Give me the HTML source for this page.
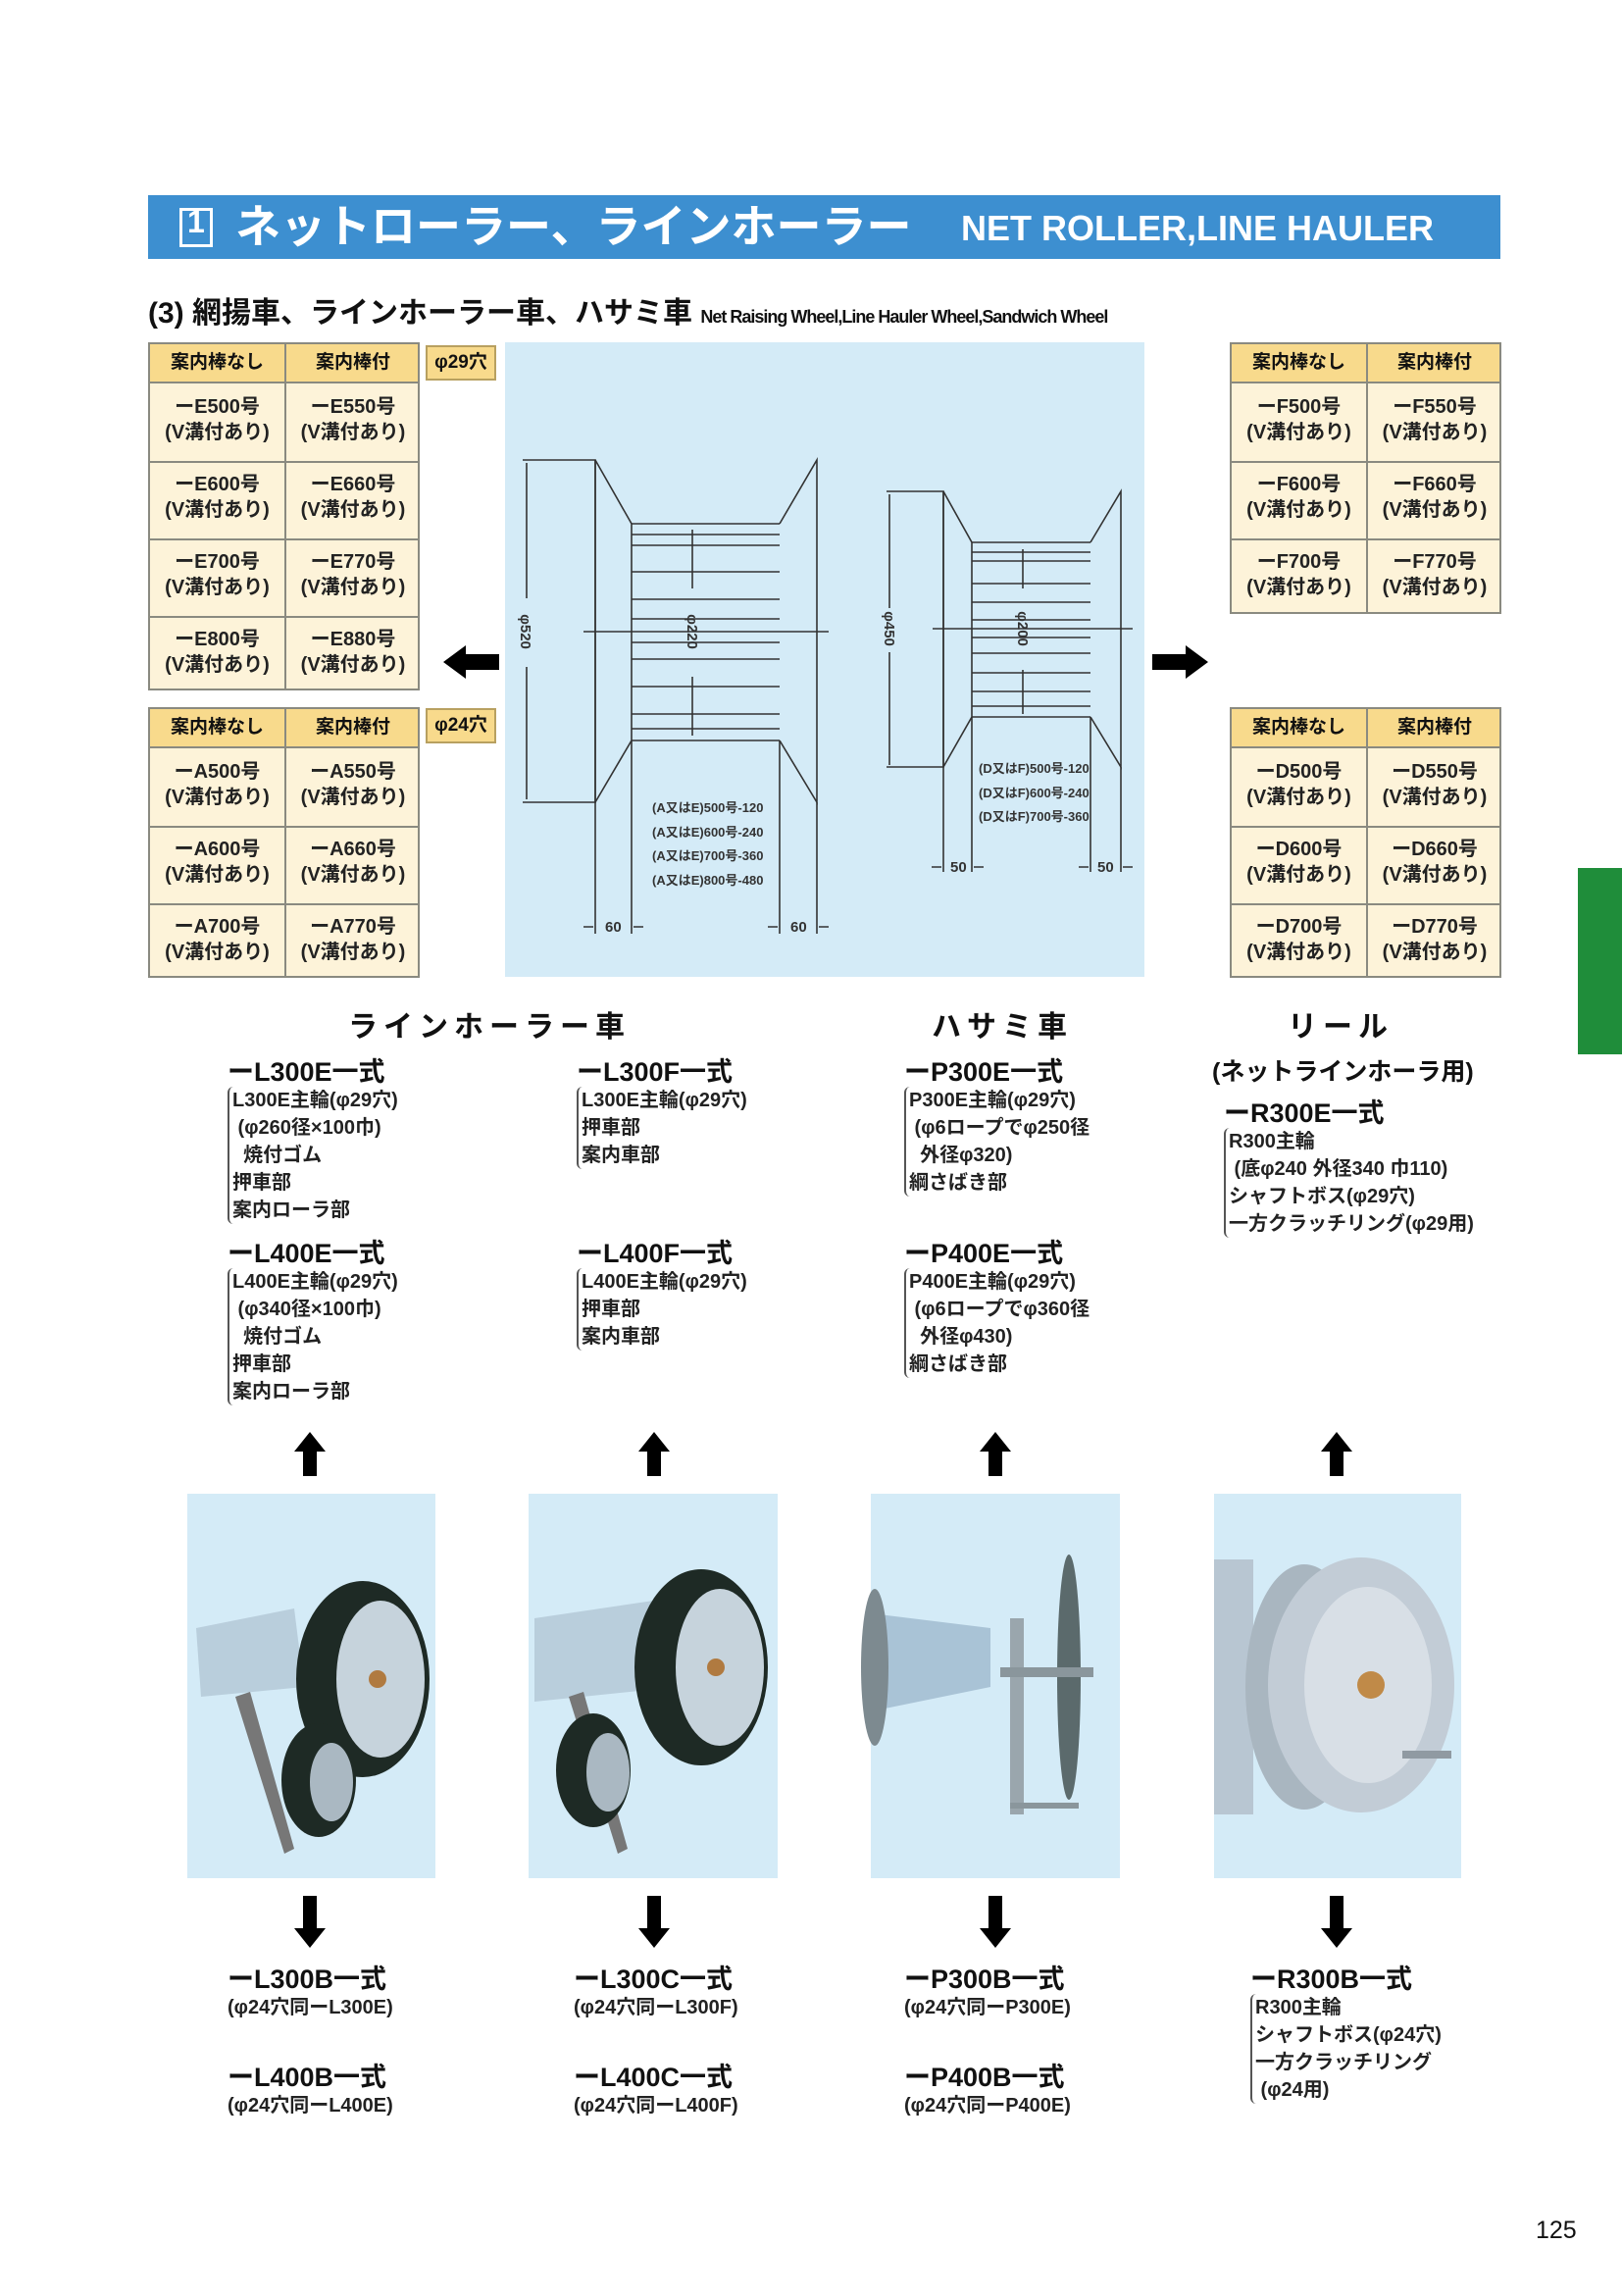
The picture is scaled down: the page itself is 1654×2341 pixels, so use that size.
<!DOCTYPE html>
<html><head><meta charset="utf-8">
<style>
*{margin:0;padding:0;box-sizing:border-box}
body{width:1654px;height:2341px;background:#fff;position:relative;overflow:hidden;font-family:"Liberation Sans","Noto Sans CJK JP",sans-serif;color:#111}
.a{position:absolute}
.tbl{position:absolute;border:2px solid #8a8a80;background:#fdf3d9}
.tbl .h{position:absolute;left:0;right:0;top:0;height:40px;background:#f8da8c;border-bottom:2px solid #8a8a80}
.tbl .v{position:absolute;top:0;bottom:0;width:2px;background:#8a8a80}
.tbl .r{position:absolute;left:0;right:0;height:2px;background:#8a8a80}
.cell{position:absolute;text-align:center;font-size:20px;line-height:26px;font-weight:bold;color:#222}
.hc{position:absolute;text-align:center;font-size:19px;line-height:38px;font-weight:bold;top:0}
.tag{position:absolute;width:72px;height:36px;background:#f8da8c;border:2px solid #b8a060;font-size:19px;font-weight:bold;text-align:center;line-height:32px}
.h1{font-size:27px;font-weight:bold;line-height:30px}
.s{font-size:20px;line-height:28px;font-weight:bold;color:#222}
.sec{font-size:30px;font-weight:bold;letter-spacing:6px}
</style></head><body>

<div class="a" style="left:151px;top:199px;width:1379px;height:65px;background:#3d8fd0"></div>
<div class="a" style="left:183px;top:212px;width:34px;height:40px;border:3px solid #fff"></div>
<div class="a" style="left:191px;top:208px;color:#fff;font-size:32px;font-weight:bold">1</div>
<div class="a" style="left:240px;top:203px;color:#fff;font-size:46px;font-weight:bold;line-height:56px">ネットローラー、ラインホーラー</div>
<div class="a" style="left:980px;top:213px;color:#fff;font-size:36px;font-weight:bold;line-height:40px;transform:scaleX(1.0);transform-origin:left">NET ROLLER,LINE HAULER</div>

<div class="a" style="left:151px;top:302px;font-size:30px;font-weight:bold;line-height:36px">(3) 網揚車、ラインホーラー車、ハサミ車 <span style="font-size:18px;letter-spacing:-1px">Net Raising Wheel,Line Hauler Wheel,Sandwich Wheel</span></div>

<div class="tbl" style="left:151px;top:349px;width:277px;height:355px">
<div class="h"></div><div class="v" style="left:137px"></div>
<div class="hc" style="left:0;width:137px">案内棒なし</div><div class="hc" style="left:139px;width:136px">案内棒付</div>
<div class="r" style="top:119px"></div><div class="r" style="top:198px"></div><div class="r" style="top:277px"></div>
<div class="cell" style="left:0;width:137px;top:51px">ーE500号<br>(V溝付あり)</div><div class="cell" style="left:139px;width:136px;top:51px">ーE550号<br>(V溝付あり)</div>
<div class="cell" style="left:0;width:137px;top:130px">ーE600号<br>(V溝付あり)</div><div class="cell" style="left:139px;width:136px;top:130px">ーE660号<br>(V溝付あり)</div>
<div class="cell" style="left:0;width:137px;top:209px">ーE700号<br>(V溝付あり)</div><div class="cell" style="left:139px;width:136px;top:209px">ーE770号<br>(V溝付あり)</div>
<div class="cell" style="left:0;width:137px;top:288px">ーE800号<br>(V溝付あり)</div><div class="cell" style="left:139px;width:136px;top:288px">ーE880号<br>(V溝付あり)</div>
</div>
<div class="tag" style="left:434px;top:352px">φ29穴</div>

<div class="tbl" style="left:151px;top:721px;width:277px;height:276px">
<div class="h"></div><div class="v" style="left:137px"></div>
<div class="hc" style="left:0;width:137px">案内棒なし</div><div class="hc" style="left:139px;width:136px">案内棒付</div>
<div class="r" style="top:119px"></div><div class="r" style="top:198px"></div>
<div class="cell" style="left:0;width:137px;top:51px">ーA500号<br>(V溝付あり)</div><div class="cell" style="left:139px;width:136px;top:51px">ーA550号<br>(V溝付あり)</div>
<div class="cell" style="left:0;width:137px;top:130px">ーA600号<br>(V溝付あり)</div><div class="cell" style="left:139px;width:136px;top:130px">ーA660号<br>(V溝付あり)</div>
<div class="cell" style="left:0;width:137px;top:209px">ーA700号<br>(V溝付あり)</div><div class="cell" style="left:139px;width:136px;top:209px">ーA770号<br>(V溝付あり)</div>
</div>
<div class="tag" style="left:434px;top:722px">φ24穴</div>

<div class="tbl" style="left:1254px;top:349px;width:277px;height:277px">
<div class="h"></div><div class="v" style="left:137px"></div>
<div class="hc" style="left:0;width:137px">案内棒なし</div><div class="hc" style="left:139px;width:136px">案内棒付</div>
<div class="r" style="top:119px"></div><div class="r" style="top:198px"></div>
<div class="cell" style="left:0;width:137px;top:51px">ーF500号<br>(V溝付あり)</div><div class="cell" style="left:139px;width:136px;top:51px">ーF550号<br>(V溝付あり)</div>
<div class="cell" style="left:0;width:137px;top:130px">ーF600号<br>(V溝付あり)</div><div class="cell" style="left:139px;width:136px;top:130px">ーF660号<br>(V溝付あり)</div>
<div class="cell" style="left:0;width:137px;top:209px">ーF700号<br>(V溝付あり)</div><div class="cell" style="left:139px;width:136px;top:209px">ーF770号<br>(V溝付あり)</div>
</div>
<div class="tbl" style="left:1254px;top:721px;width:277px;height:276px">
<div class="h"></div><div class="v" style="left:137px"></div>
<div class="hc" style="left:0;width:137px">案内棒なし</div><div class="hc" style="left:139px;width:136px">案内棒付</div>
<div class="r" style="top:119px"></div><div class="r" style="top:198px"></div>
<div class="cell" style="left:0;width:137px;top:51px">ーD500号<br>(V溝付あり)</div><div class="cell" style="left:139px;width:136px;top:51px">ーD550号<br>(V溝付あり)</div>
<div class="cell" style="left:0;width:137px;top:130px">ーD600号<br>(V溝付あり)</div><div class="cell" style="left:139px;width:136px;top:130px">ーD660号<br>(V溝付あり)</div>
<div class="cell" style="left:0;width:137px;top:209px">ーD700号<br>(V溝付あり)</div><div class="cell" style="left:139px;width:136px;top:209px">ーD770号<br>(V溝付あり)</div>
</div>

<svg class="a" style="left:0;top:0" width="1654" height="2341">
<rect x="515" y="349" width="652" height="647" fill="#d4ebf7"/>
<g stroke="#333" stroke-width="1.6" fill="none">
<path d="M533 469H607V818H533"/>
<path d="M607 469L644 534V755L607 818"/>
<path d="M644 534H795M644 755H795"/>
<path d="M795 534L833 469V818L795 755"/>
<line x1="607" y1="469" x2="607" y2="952"/><line x1="644" y1="755" x2="644" y2="952"/>
<line x1="795" y1="755" x2="795" y2="952"/><line x1="833" y1="818" x2="833" y2="952"/>
<path d="M644 545H795M644 556H795M644 583H795M644 611H795M644 631H795M644 655H795M644 672H795M644 700H795M644 728H795M644 743H795"/>
<line x1="595" y1="644" x2="845" y2="644"/>
<line x1="537" y1="472" x2="537" y2="610"/><line x1="537" y1="680" x2="537" y2="815"/>
<line x1="706" y1="540" x2="706" y2="600"/><line x1="706" y1="690" x2="706" y2="750"/>
<path d="M595 945H605M646 945H656M783 945H793M835 945H845"/>
<path d="M904 501H962V782H904"/>
<path d="M962 501L991 553V731L962 782"/>
<path d="M991 553H1112M991 731H1112"/>
<path d="M1112 553L1143 501V782L1112 731"/>
<line x1="962" y1="501" x2="962" y2="889"/><line x1="991" y1="731" x2="991" y2="889"/>
<line x1="1112" y1="731" x2="1112" y2="889"/><line x1="1143" y1="782" x2="1143" y2="889"/>
<path d="M991 563H1112M991 572H1112M991 595H1112M991 614H1112M991 632H1112M991 650H1112M991 666H1112M991 686H1112M991 705H1112M991 720H1112"/>
<line x1="951" y1="641" x2="1155" y2="641"/>
<line x1="907" y1="504" x2="907" y2="620"/><line x1="907" y1="665" x2="907" y2="780"/>
<line x1="1043" y1="560" x2="1043" y2="600"/><line x1="1043" y1="683" x2="1043" y2="728"/>
<path d="M950 884H960M993 884H1003M1100 884H1110M1145 884H1155"/>
</g>
<g font-size="13" fill="#333" font-family="Liberation Sans,Noto Sans CJK JP,sans-serif" font-weight="bold">
<text x="665" y="828">(A又はE)500号-120</text><text x="665" y="853">(A又はE)600号-240</text>
<text x="665" y="877">(A又はE)700号-360</text><text x="665" y="902">(A又はE)800号-480</text>
<text x="998" y="788">(D又はF)500号-120</text><text x="998" y="813">(D又はF)600号-240</text><text x="998" y="837">(D又はF)700号-360</text>
<text x="617" y="950" font-size="15">60</text><text x="806" y="950" font-size="15">60</text><text x="969" y="889" font-size="15">50</text><text x="1119" y="889" font-size="15">50</text>
<text transform="translate(531,644) rotate(90)" text-anchor="middle" font-size="15">φ520</text>
<text transform="translate(701,644) rotate(90)" text-anchor="middle" font-size="15">φ220</text>
<text transform="translate(902,641) rotate(90)" text-anchor="middle" font-size="15">φ450</text>
<text transform="translate(1038,641) rotate(90)" text-anchor="middle" font-size="15">φ200</text>
</g>
<path d="M452 675L475 658V667H509V683H475V692Z" fill="#000"/>
<path d="M1232 675L1209 658V667H1175V683H1209V692Z" fill="#000"/>
<g fill="#000">
<path d="M316 1460L300 1480H309V1505H323V1480H332Z"/>
<path d="M667 1460L651 1480H660V1505H674V1480H683Z"/>
<path d="M1015 1460L999 1480H1008V1505H1022V1480H1031Z"/>
<path d="M1363 1460L1347 1480H1356V1505H1370V1480H1379Z"/>
<path d="M316 1986L300 1966H309V1933H323V1966H332Z"/>
<path d="M667 1986L651 1966H660V1933H674V1966H683Z"/>
<path d="M1015 1986L999 1966H1008V1933H1022V1966H1031Z"/>
<path d="M1363 1986L1347 1966H1356V1933H1370V1966H1379Z"/>
</g>
<rect x="191" y="1523" width="253" height="392" fill="#d4ebf7"/>
<rect x="539" y="1523" width="254" height="392" fill="#d4ebf7"/>
<rect x="888" y="1523" width="254" height="392" fill="#d4ebf7"/>
<rect x="1238" y="1523" width="252" height="392" fill="#d4ebf7"/>
<path d="M200 1660L300 1640L310 1720L205 1730Z" fill="#b9cedc"/>
<path d="M240 1730L290 1890L300 1885L255 1725Z" fill="#777"/>
<ellipse cx="370" cy="1712" rx="68" ry="100" fill="#1e2a25"/>
<ellipse cx="388" cy="1712" rx="45" ry="80" fill="#c6d3dc"/>
<circle cx="385" cy="1712" r="9" fill="#b07a40"/>
<ellipse cx="325" cy="1815" rx="38" ry="58" fill="#1e2a25"/>
<ellipse cx="338" cy="1817" rx="22" ry="40" fill="#aab8c2"/>
<path d="M545 1650L680 1630L690 1720L545 1735Z" fill="#b9cedc"/>
<path d="M580 1730L630 1890L640 1885L595 1725Z" fill="#777"/>
<ellipse cx="715" cy="1700" rx="68" ry="100" fill="#1e2a25"/>
<ellipse cx="734" cy="1700" rx="45" ry="80" fill="#c6d3dc"/>
<circle cx="730" cy="1700" r="9" fill="#b07a40"/>
<ellipse cx="605" cy="1805" rx="38" ry="58" fill="#1e2a25"/>
<ellipse cx="620" cy="1807" rx="22" ry="40" fill="#aab8c2"/>
<path d="M888 1645L1010 1660V1720L888 1745Z" fill="#a9c3d6"/>
<ellipse cx="892" cy="1700" rx="14" ry="80" fill="#7d8a90"/>
<rect x="1030" y="1650" width="14" height="200" fill="#9aa6ad"/>
<ellipse cx="1090" cy="1710" rx="12" ry="125" fill="#5b6a6c"/>
<rect x="1020" y="1700" width="95" height="10" fill="#8a969c"/>
<rect x="1030" y="1838" width="70" height="6" fill="#8a969c"/>
<rect x="1238" y="1590" width="40" height="260" fill="#b8c6d2"/>
<ellipse cx="1330" cy="1720" rx="60" ry="125" fill="#a9b6c0"/>
<ellipse cx="1388" cy="1718" rx="95" ry="130" fill="#c2ccd6"/>
<ellipse cx="1395" cy="1718" rx="65" ry="100" fill="#d8dfe6"/>
<circle cx="1398" cy="1718" r="14" fill="#c08a48"/>
<rect x="1430" y="1785" width="50" height="8" fill="#909aa2"/>
</svg>

<div class="a" style="left:1609px;top:885px;width:45px;height:190px;background:#1f8d3a"></div>

<div class="a sec" style="left:355px;top:1022px">ラインホーラー車</div>
<div class="a sec" style="left:950px;top:1022px">ハサミ車</div>
<div class="a sec" style="left:1313px;top:1022px">リール</div>

<div class="a" style="left:232px;top:1078px"><div class="h1">ーL300E一式</div><div class="s" style="border-left:2px solid #555;padding-left:3px;border-radius:6px 0 0 6px">L300E主輪(φ29穴)<br>&nbsp;(φ260径×100巾)<br>&nbsp;&nbsp;焼付ゴム<br>押車部<br>案内ローラ部</div></div>
<div class="a" style="left:232px;top:1263px"><div class="h1">ーL400E一式</div><div class="s" style="border-left:2px solid #555;padding-left:3px;border-radius:6px 0 0 6px">L400E主輪(φ29穴)<br>&nbsp;(φ340径×100巾)<br>&nbsp;&nbsp;焼付ゴム<br>押車部<br>案内ローラ部</div></div>
<div class="a" style="left:588px;top:1078px"><div class="h1">ーL300F一式</div><div class="s" style="border-left:2px solid #555;padding-left:3px;border-radius:6px 0 0 6px">L300E主輪(φ29穴)<br>押車部<br>案内車部</div></div>
<div class="a" style="left:588px;top:1263px"><div class="h1">ーL400F一式</div><div class="s" style="border-left:2px solid #555;padding-left:3px;border-radius:6px 0 0 6px">L400E主輪(φ29穴)<br>押車部<br>案内車部</div></div>
<div class="a" style="left:922px;top:1078px"><div class="h1">ーP300E一式</div><div class="s" style="border-left:2px solid #555;padding-left:3px;border-radius:6px 0 0 6px">P300E主輪(φ29穴)<br>&nbsp;(φ6ロープでφ250径<br>&nbsp;&nbsp;外径φ320)<br>綱さばき部</div></div>
<div class="a" style="left:922px;top:1263px"><div class="h1">ーP400E一式</div><div class="s" style="border-left:2px solid #555;padding-left:3px;border-radius:6px 0 0 6px">P400E主輪(φ29穴)<br>&nbsp;(φ6ロープでφ360径<br>&nbsp;&nbsp;外径φ430)<br>綱さばき部</div></div>
<div class="a" style="left:1236px;top:1078px"><div class="h1" style="font-size:25px">(ネットラインホーラ用)</div>
<div style="margin-left:12px;margin-top:12px"><div class="h1">ーR300E一式</div><div class="s" style="border-left:2px solid #555;padding-left:3px;border-radius:6px 0 0 6px">R300主輪<br>&nbsp;(底φ240 外径340 巾110)<br>シャフトボス(φ29穴)<br>一方クラッチリング(φ29用)</div></div></div>

<div class="a" style="left:232px;top:2003px"><div class="h1">ーL300B一式</div><div class="s">(φ24穴同ーL300E)</div></div>
<div class="a" style="left:232px;top:2103px"><div class="h1">ーL400B一式</div><div class="s">(φ24穴同ーL400E)</div></div>
<div class="a" style="left:585px;top:2003px"><div class="h1">ーL300C一式</div><div class="s">(φ24穴同ーL300F)</div></div>
<div class="a" style="left:585px;top:2103px"><div class="h1">ーL400C一式</div><div class="s">(φ24穴同ーL400F)</div></div>
<div class="a" style="left:922px;top:2003px"><div class="h1">ーP300B一式</div><div class="s">(φ24穴同ーP300E)</div></div>
<div class="a" style="left:922px;top:2103px"><div class="h1">ーP400B一式</div><div class="s">(φ24穴同ーP400E)</div></div>
<div class="a" style="left:1275px;top:2003px"><div class="h1">ーR300B一式</div><div class="s" style="border-left:2px solid #555;padding-left:3px;border-radius:6px 0 0 6px">R300主輪<br>シャフトボス(φ24穴)<br>一方クラッチリング<br>&nbsp;(φ24用)</div></div>

<div class="a" style="left:1566px;top:2260px;font-size:25px">125</div>
</body></html>
